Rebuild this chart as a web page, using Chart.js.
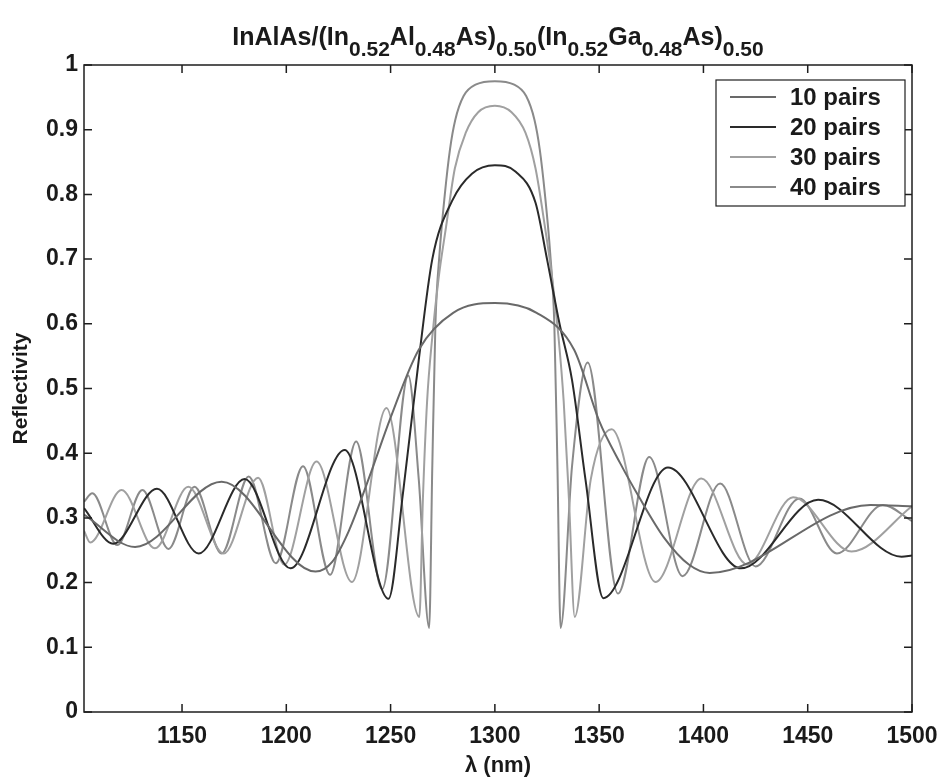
<!DOCTYPE html>
<html>
<head>
<meta charset="utf-8">
<script src="https://cdn.jsdelivr.net/npm/chart.js@4.4.1/dist/chart.umd.min.js"></script>
<style>
  html, body { margin: 0; padding: 0; background: #fff; }
  #wrap { width: 945px; height: 784px; }
</style>
</head>
<body>
<div id="wrap"><canvas id="reflChart" width="945" height="784"></canvas></div>
<script>
// wavelength (nm) / reflectivity, one pair of arrays per stack
const wl10 = [1103, 1127.5, 1169, 1214, 1222, 1230, 1240, 1250, 1263.5, 1280, 1300, 1320, 1338, 1350, 1360, 1369, 1381, 1393, 1403, 1480, 1500];
const r10  = [0.305, 0.255, 0.356, 0.217, 0.232, 0.28, 0.365, 0.455, 0.56, 0.617, 0.632, 0.617, 0.56, 0.45, 0.385, 0.333, 0.27, 0.228, 0.215, 0.32, 0.318];

const wl20 = [1103, 1117, 1138, 1158, 1180, 1202, 1228, 1249, 1256, 1263.5, 1270, 1279.5, 1289, 1300, 1310, 1319.5, 1325, 1331, 1337, 1343.5, 1352, 1383, 1418, 1455, 1495, 1500];
const r20  = [0.315, 0.26, 0.345, 0.245, 0.36, 0.222, 0.405, 0.175, 0.34, 0.544, 0.70, 0.79, 0.832, 0.845, 0.835, 0.787, 0.70, 0.60, 0.513, 0.358, 0.176, 0.378, 0.222, 0.328, 0.24, 0.242];

const wl30 = [1103, 1106, 1121, 1137, 1153, 1170, 1186.5, 1199, 1214.5, 1231.5, 1248, 1263.8, 1265.5, 1267.5, 1270, 1273, 1276.6, 1280.8, 1286, 1292, 1300, 1308, 1314.7, 1319.5, 1324, 1327.5, 1330.5, 1333, 1335.5, 1338.3, 1346, 1356, 1377, 1399, 1421, 1443, 1471, 1500];
const r30  = [0.28, 0.262, 0.343, 0.253, 0.348, 0.245, 0.362, 0.228, 0.387, 0.201, 0.47, 0.147, 0.33, 0.48, 0.58, 0.67, 0.75, 0.84, 0.895, 0.927, 0.937, 0.927, 0.895, 0.84, 0.75, 0.67, 0.58, 0.48, 0.33, 0.147, 0.36, 0.437, 0.201, 0.361, 0.228, 0.332, 0.248, 0.318];

const wl40 = [1103, 1107, 1119, 1131, 1143.5, 1156, 1169, 1182, 1195, 1208, 1221, 1233.5, 1246, 1258.5, 1263.5, 1268.5, 1270, 1271.5, 1273.5, 1276, 1278.5, 1281, 1285, 1291, 1300, 1309, 1315, 1319, 1321.5, 1324, 1326.5, 1328.5, 1330, 1331.5, 1337, 1344.5, 1359, 1374, 1390, 1408, 1425, 1446, 1464, 1486, 1500];
const r40  = [0.325, 0.338, 0.258, 0.343, 0.252, 0.348, 0.245, 0.364, 0.23, 0.38, 0.212, 0.418, 0.19, 0.52, 0.36, 0.13, 0.38, 0.60, 0.71, 0.80, 0.87, 0.915, 0.952, 0.97, 0.975, 0.97, 0.952, 0.915, 0.87, 0.80, 0.71, 0.60, 0.38, 0.13, 0.38, 0.54, 0.183, 0.394, 0.21, 0.353, 0.225, 0.33, 0.245, 0.32, 0.295];

const seriesLabels = ['10 pairs', '20 pairs', '30 pairs', '40 pairs'];
const xTicks = [1150, 1200, 1250, 1300, 1350, 1400, 1450, 1500];
const yTicks = [0, 0.1, 0.2, 0.3, 0.4, 0.5, 0.6, 0.7, 0.8, 0.9, 1];

// title pieces: [text, isSubscript]
const titleParts = [
  ['InAlAs/(In', 0], ['0.52', 1], ['Al', 0], ['0.48', 1], ['As)', 0], ['0.50', 1],
  ['(In', 0], ['0.52', 1], ['Ga', 0], ['0.48', 1], ['As)', 0], ['0.50', 1]
];

const lineColors = ['#696969', '#2a2a2a', '#a0a0a0', '#8a8a8a'];
const FONT = "'Liberation Sans', Arial, sans-serif";

function toPoints(xs, ys) {
    return xs.map((v, i) => ({ x: v, y: ys[i] }));
}

const allSeries = [[wl10, r10], [wl20, r20], [wl30, r30], [wl40, r40]];

const datasets = allSeries.map((s, i) => ({
    label: seriesLabels[i],
    data: toPoints(s[0], s[1]),
    borderColor: lineColors[i],
    borderWidth: 2,
    pointRadius: 0,
    fill: false,
    cubicInterpolationMode: 'monotone'
}));

// box + inward ticks, matlab style
const framePlugin = {
    id: 'frame',
    afterDatasetsDraw(chart) {
        const { ctx, chartArea: a, scales } = chart;
        ctx.save();
        ctx.strokeStyle = '#1e1e1e';
        ctx.lineWidth = 1.5;
        ctx.strokeRect(a.left, a.top, a.right - a.left, a.bottom - a.top);
        ctx.beginPath();
        xTicks.forEach(v => {
            const px = scales.x.getPixelForValue(v);
            ctx.moveTo(px, a.bottom); ctx.lineTo(px, a.bottom - 8);
            ctx.moveTo(px, a.top); ctx.lineTo(px, a.top + 8);
        });
        yTicks.forEach(v => {
            const py = scales.y.getPixelForValue(v);
            ctx.moveTo(a.left, py); ctx.lineTo(a.left + 8, py);
            ctx.moveTo(a.right, py); ctx.lineTo(a.right - 8, py);
        });
        ctx.stroke();
        ctx.restore();
    }
};

const legendPlugin = {
    id: 'boxLegend',
    afterDraw(chart) {
        const { ctx, chartArea: a } = chart;
        const left = a.right - 196, top = a.top + 15, w = 189, h = 126;
        ctx.save();
        ctx.fillStyle = '#fff';
        ctx.fillRect(left, top, w, h);
        ctx.strokeStyle = '#1e1e1e';
        ctx.lineWidth = 1.2;
        ctx.strokeRect(left, top, w, h);
        ctx.font = 'bold 24px ' + FONT;
        ctx.textBaseline = 'middle';
        chart.data.datasets.forEach((ds, i) => {
            const cy = top + 17 + i * 30;
            ctx.strokeStyle = ds.borderColor;
            ctx.lineWidth = 2;
            ctx.beginPath();
            ctx.moveTo(left + 14, cy); ctx.lineTo(left + 60, cy);
            ctx.stroke();
            ctx.fillStyle = '#1a1a1a';
            ctx.fillText(ds.label, left + 74, cy + 1);
        });
        ctx.restore();
    }
};

const titlePlugin = {
    id: 'subTitle',
    afterDraw(chart) {
        const { ctx, chartArea: a } = chart;
        const mainFont = 'bold 25px ' + FONT, subFont = 'bold 21px ' + FONT;
        ctx.save();
        let total = 0;
        titleParts.forEach(p => { ctx.font = p[1] ? subFont : mainFont; total += ctx.measureText(p[0]).width; });
        let x = (a.left + a.right) / 2 - total / 2;
        ctx.fillStyle = '#1a1a1a';
        ctx.textBaseline = 'alphabetic';
        titleParts.forEach(p => {
            ctx.font = p[1] ? subFont : mainFont;
            ctx.fillText(p[0], x, p[1] ? 56 : 45);
            x += ctx.measureText(p[0]).width;
        });
        ctx.restore();
    }
};

const chart = new Chart(document.getElementById('reflChart').getContext('2d'), {
    type: 'line',
    data: { datasets },
    options: {
        responsive: false,
        animation: false,
        layout: { padding: { left: 0, right: 33, top: 65, bottom: 0 } },
        plugins: { legend: { display: false }, tooltip: { enabled: false } },
        scales: {
            x: {
                type: 'linear',
                min: 1103,
                max: 1500,
                afterBuildTicks: s => { s.ticks = xTicks.map(v => ({ value: v })); },
                afterFit: s => { s.height = 72; s.paddingLeft = 0; s.paddingRight = 0; },
                grid: { display: false, drawTicks: false },
                border: { display: false },
                ticks: { color: '#1a1a1a', padding: 11, maxRotation: 0, callback: v => String(v), font: { family: FONT, weight: 'bold', size: 23 } },
                title: { display: true, text: 'λ (nm)', color: '#1a1a1a', padding: { top: 0, bottom: 5 }, font: { family: FONT, weight: 'bold', size: 22 } }
            },
            y: {
                min: 0,
                max: 1,
                afterBuildTicks: s => { s.ticks = yTicks.map(v => ({ value: v })); },
                afterFit: s => { s.width = 84; },
                grid: { display: false, drawTicks: false },
                border: { display: false },
                ticks: { color: '#1a1a1a', padding: 6, callback: v => String(+v.toFixed(1)), font: { family: FONT, weight: 'bold', size: 23 } },
                title: { display: true, text: 'Reflectivity', color: '#1a1a1a', padding: { top: 9, bottom: 0 }, font: { family: FONT, weight: 'bold', size: 21 } }
            }
        }
    },
    plugins: [framePlugin, legendPlugin, titlePlugin]
});
</script>
</body>
</html>
